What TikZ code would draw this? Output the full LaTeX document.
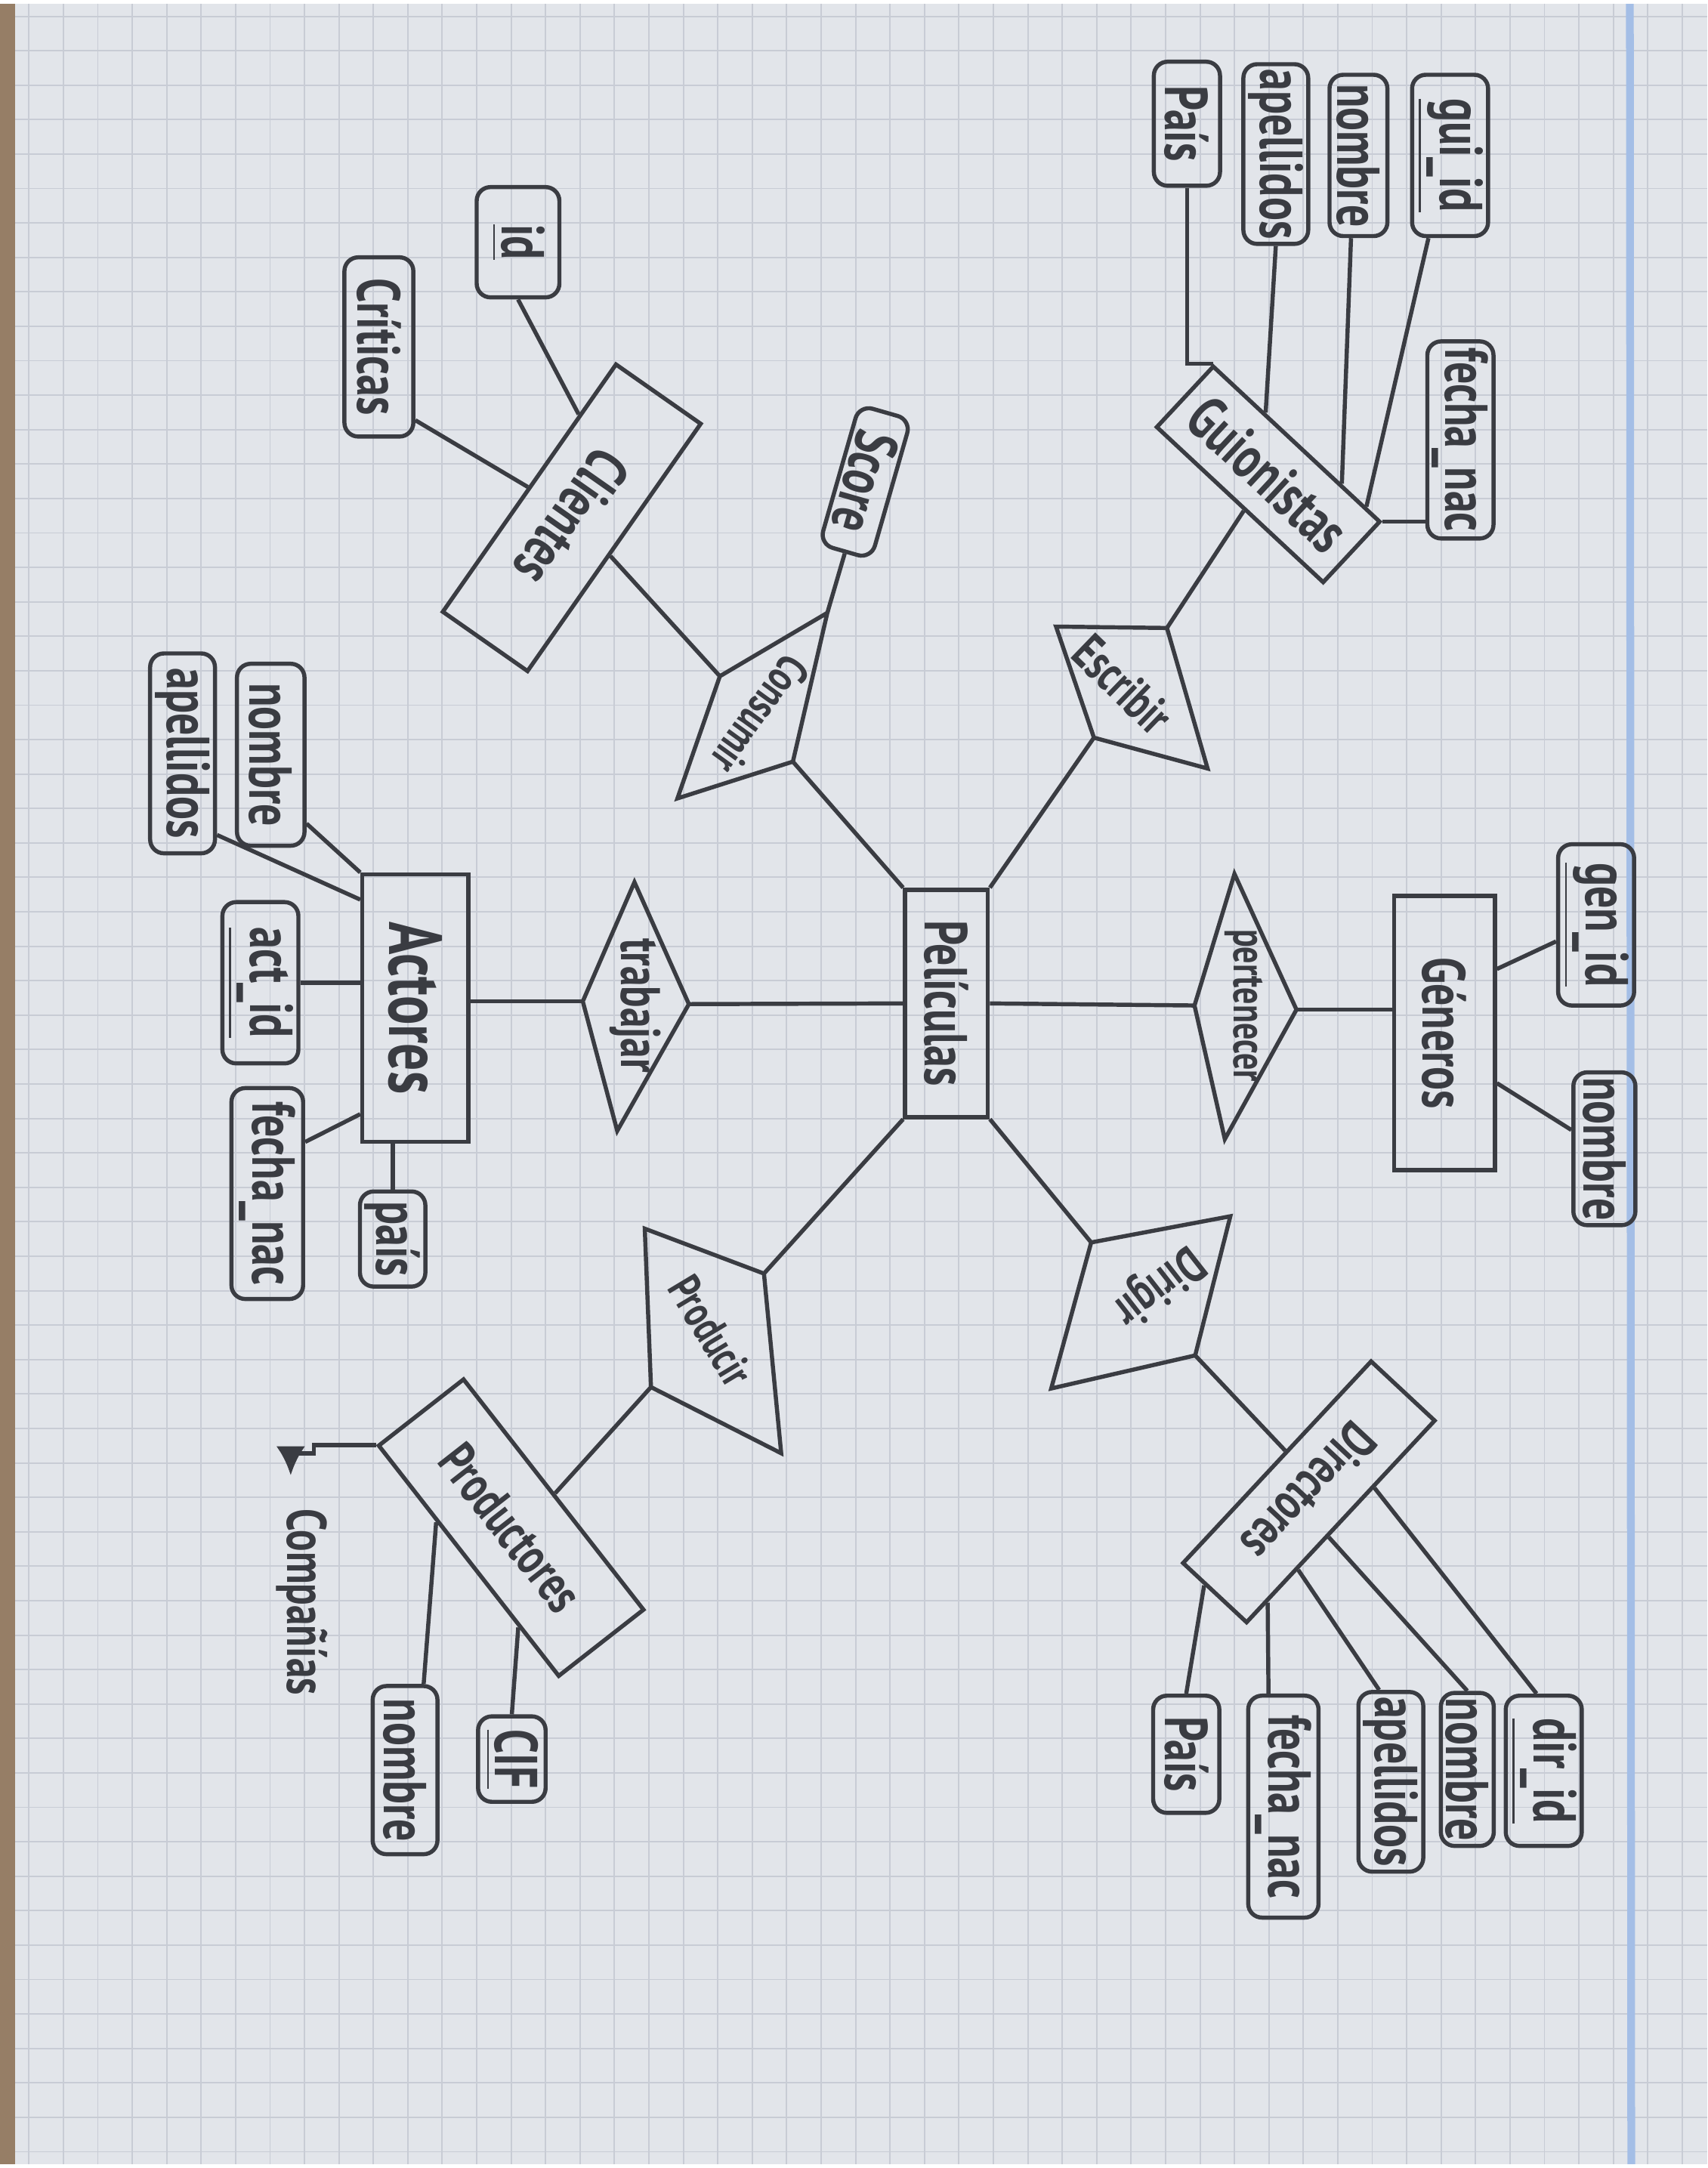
\documentclass[tikz,border=0pt]{standalone}
\usepackage{fontspec}
\setmainfont{PT Sans}[FakeStretch=0.72]
\usepackage{tikz}
\usetikzlibrary{arrows.meta,calc,positioning,shapes}
\tikzset{
  entnode/.style = {align=center, inner sep=1pt, draw=my_ink, text=my_ink, font=\fontsize{12.5}{12.5}\selectfont\bfseries},
  ent_v/.style = {entnode, rotate=-90},
  attrnode/.style = {entnode, rounded corners=0.1cm, rotate=-90},
  reltext/.style = {inner sep=0pt, text=my_ink, font=\fontsize{10.5}{10.5}\selectfont\bfseries}
}
\definecolor{my_ink}{RGB}{58, 60, 66}
\definecolor{my_paper}{RGB}{226, 229, 234}
\definecolor{my_grid}{RGB}{200, 204, 213}
\definecolor{my_margin}{RGB}{164, 190, 230}
\definecolor{my_wood}{RGB}{150, 126, 102}

\begin{document}
\begin{tikzpicture}[x=0.01cm, y=-0.01cm, line width=0.85pt, color=my_ink,
        gridline/.style={draw=my_grid, line width=0.3pt},
        big/.style={font=\fontsize{15.5}{15.5}\selectfont\bfseries},
        small/.style={font=\fontsize{11}{11}\selectfont\bfseries}]
    \fill[my_paper] (0,0) rectangle (1239,1568);
    \foreach \gx in {21,46,...,1239} \draw[gridline] (\gx,0) -- (\gx,1568);
    \foreach \gy in {9,34,...,1568} \draw[gridline] (11,\gy) -- (1239,\gy);
    \draw[my_margin, line width=1.6pt] (1183,0) -- (1184,1568);
    \fill[my_wood] (0,0) rectangle (11,1568);

    % entidades
    \node [ent_v, minimum width=1.65cm, minimum height=0.6cm] (peli) at (687,725.5) {Películas};
    \node [ent_v, minimum width=1.99cm, minimum height=0.73cm] (generos) at (1048.5,747) {Géneros};
    \node [ent_v, big, minimum width=1.94cm, minimum height=0.77cm] (actores) at (301.5,729) {Actores};
    \node [entnode, rotate=-43, minimum width=1.65cm, minimum height=0.6cm] (guion) at (920.5,341.5) {Guionistas};
    \node [entnode, rotate=235, minimum width=2.19cm, minimum height=0.75cm] (clientes) at (415,373) {Clientes};
    \node [entnode, small, rotate=227, minimum width=2cm, minimum height=0.63cm] (directores) at (950,1080) {Directores};
    \node [entnode, small, rotate=-52, minimum width=2.12cm, minimum height=0.78cm] (productores) at (371,1106) {Productores};

    % relaciones
    \coordinate (trabT) at (460.5,637.5); \coordinate (trabR) at (500,726);
    \coordinate (trabB) at (448,818);     \coordinate (trabL) at (423,724);
    \draw (trabT) -- (trabR) -- (trabB) -- (trabL) -- cycle;
    \node [reltext, rotate=-90, font=\fontsize{11.5}{11.5}\selectfont\bfseries] (trabajar) at (461,727) {trabajar};

    \coordinate (pertT) at (896,631.5); \coordinate (pertR) at (941,730);
    \coordinate (pertB) at (889,824);   \coordinate (pertL) at (867,727);
    \draw (pertT) -- (pertR) -- (pertB) -- (pertL) -- cycle;
    \node [reltext, rotate=-90, font=\fontsize{9.5}{9.5}\selectfont\bfseries] (pertenecer) at (903,727) {pertenecer};

    \coordinate (dirA) at (792,899);   \coordinate (dirB) at (893,880);
    \coordinate (dirC) at (867.5,981); \coordinate (dirD) at (763,1005);
    \draw (dirA) -- (dirB) -- (dirC) -- (dirD) -- cycle;
    \node [reltext, rotate=218] (dirigir) at (840,930) {Dirigir};

    \coordinate (prodA) at (468,889);   \coordinate (prodB) at (554.5,921.6);
    \coordinate (prodC) at (567,1052);  \coordinate (prodD) at (472.5,1004);
    \draw (prodA) -- (prodB) -- (prodC) -- (prodD) -- cycle;
    \node [reltext, rotate=-59, font=\fontsize{9.5}{9.5}\selectfont\bfseries] (producir) at (516,963) {Producir};

    \coordinate (consA) at (522.5,488); \coordinate (consB) at (600.5,442);
    \coordinate (consC) at (575.5,550); \coordinate (consD) at (491.7,576.7);
    \draw (consA) -- (consB) -- (consC) -- (consD) -- cycle;
    \node [reltext, rotate=234, font=\fontsize{9.5}{9.5}\selectfont\bfseries] (consumir) at (552,516) {Consumir};

    \coordinate (escA) at (766.5,452); \coordinate (escB) at (847,453);
    \coordinate (escC) at (876.5,555); \coordinate (escD) at (794,532.6);
    \draw (escA) -- (escB) -- (escC) -- (escD) -- cycle;
    \node [reltext, rotate=-44] (escribir) at (815,494) {Escribir};

    % atributos
    \node [attrnode, minimum width=1.17cm, minimum height=0.45cm] (genid) at (1158.5,668.5) {\underline{gen\_id}};
    \node [attrnode, minimum width=1.08cm, minimum height=0.45cm] (gnombre) at (1164.5,831) {nombre};

    \node [attrnode, minimum width=0.85cm, minimum height=0.48cm] (dpais) at (861,1270.5) {País};
    \node [attrnode, minimum width=1.61cm, minimum height=0.51cm] (dfecha) at (931.5,1308.5) {fecha\_nac};
    \node [attrnode, minimum width=1.25cm, minimum height=0.43cm] (dapell) at (1009.5,1290.5) {apellidos};
    \node [attrnode, minimum width=1.11cm, minimum height=0.36cm] (dnombre) at (1065,1281.5) {nombre};
    \node [attrnode, minimum width=1.09cm, minimum height=0.5cm] (dirid) at (1120.5,1282.5) {\underline{dir\_id}};

    \node [attrnode, minimum width=0.62cm, minimum height=0.49cm] (cif) at (371.5,1274) {\underline{CIF}};
    \node [attrnode, minimum width=1.22cm, minimum height=0.47cm] (pnombre) at (294,1282) {nombre};
    \node [reltext, rotate=-90, font=\fontsize{11.5}{11.5}\selectfont\bfseries] (compania) at (219,1160) {Compañías};
    \coordinate (hook) at (211,1068);

    \node [attrnode, minimum width=1.32cm, minimum height=0.49cm] (anombre) at (196.5,545) {nombre};
    \node [attrnode, minimum width=1.45cm, minimum height=0.43cm] (aapell) at (132.5,544) {apellidos};
    \node [attrnode, minimum width=1.17cm, minimum height=0.47cm] (actid) at (189,710.5) {\underline{act\_id}};
    \node [attrnode, minimum width=1.53cm, minimum height=0.52cm] (afecha) at (194,863.5) {fecha\_nac};
    \node [attrnode, minimum width=0.69cm, minimum height=0.44cm] (apais) at (285,896.5) {país};

    \node [attrnode, minimum width=0.8cm, minimum height=0.6cm] (cid) at (376,173) {\underline{id}};
    \node [attrnode, minimum width=1.3cm, minimum height=0.5cm] (criticas) at (275,249) {Críticas};
    \node [attrnode, rotate=-16, minimum width=1.05cm, minimum height=0.36cm] (score) at (628,347) {Score};

    \node [attrnode, minimum width=0.9cm, minimum height=0.48cm] (gpais) at (861.5,87) {País};
    \node [attrnode, minimum width=1.3cm, minimum height=0.44cm] (gapell) at (926,109) {apellidos};
    \node [attrnode, minimum width=1.17cm, minimum height=0.42cm] (gnom) at (986,110) {nombre};
    \node [attrnode, minimum width=1.17cm, minimum height=0.47cm] (guiid) at (1052.5,110) {\underline{gui\_id}};
    \node [attrnode, minimum width=1.43cm, minimum height=0.46cm] (gfecha) at (1060,316.5) {fecha\_nac};

    % conexiones
    \draw (peli.south) -- (trabR);
    \draw (peli.north) -- (pertL);
    \draw (peli.south west) -- (consC);
    \draw (peli.north west) -- (escD);
    \draw (peli.south east) -- (prodB);
    \draw (peli.north east) -- (dirA);

    \draw (trabL) -- (trabL -| actores.north);
    \draw (pertR) -- (pertR -| generos.south);
    \draw (consA) -- ($(clientes.north west)!0.53!(clientes.north east)$);
    \draw (consB) -- (score.east);
    \draw (escB) -- ($(guion.south west)!0.53!(guion.south east)$);
    \draw (dirC) -- ($(directores.south west)!0.45!(directores.south east)$);
    \draw (prodD) -- (productores.north);

    \draw ($(generos.north west)!0.27!(generos.north east)$) -- ($(genid.south west)!0.6!(genid.south east)$);
    \draw ($(generos.north west)!0.68!(generos.north east)$) -- ($(gnombre.south west)!0.38!(gnombre.south east)$);

    \draw ($(directores.south east)!0.36!(directores.north east)$) -- (dpais.west);
    \draw ($(directores.north west)!0.89!(directores.north east)$) -- ($(dfecha.south west)!0.3!(dfecha.north west)$);
    \draw ($(directores.north west)!0.73!(directores.north east)$) -- ($(dapell.south west)!0.33!(dapell.north west)$);
    \draw ($(directores.north west)!0.57!(directores.north east)$) -- (dnombre.west);
    \draw ($(directores.north west)!0.33!(directores.north east)$) -- ($(dirid.south west)!0.41!(dirid.north west)$);

    \draw ($(productores.south west)!0.78!(productores.south east)$) -- (cif.west);
    \draw ($(productores.south west)!0.33!(productores.south east)$) -- ($(pnombre.south west)!0.77!(pnombre.north west)$);
    \draw[-{Latex[length=6pt,width=6pt]}] (productores.south west) -| ++(-45,6) -| (hook);

    \draw ($(anombre.north west)!0.87!(anombre.north east)$) -- (actores.south west);
    \draw ($(aapell.north west)!0.9!(aapell.north east)$) -- ($(actores.south west)!0.1!(actores.south east)$);
    \draw (actid.north) -- (actid.north -| actores.south);
    \draw ($(afecha.north west)!0.26!(afecha.north east)$) -- ($(actores.south west)!0.89!(actores.south east)$);
    \draw (apais.west) -- (apais.west |- actores.east);

    \draw (cid.east) -- ($(clientes.south west)!0.21!(clientes.south east)$);
    \draw ($(criticas.north west)!0.9!(criticas.north east)$) -- ($(clientes.south west)!0.5!(clientes.south east)$);

    \draw (gpais.east) |- (guion.north west);
    \draw (gapell.east) -- ($(guion.north west)!0.31!(guion.north east)$);
    \draw ($(gnom.south east)!0.38!(gnom.north east)$) -- ($(guion.north west)!0.76!(guion.north east)$);
    \draw ($(guiid.south east)!0.23!(guiid.north east)$) -- ($(guion.north west)!0.905!(guion.north east)$);
    \draw (guion.north east) -- (guion.north east -| gfecha.south);
\end{tikzpicture}
\end{document}
